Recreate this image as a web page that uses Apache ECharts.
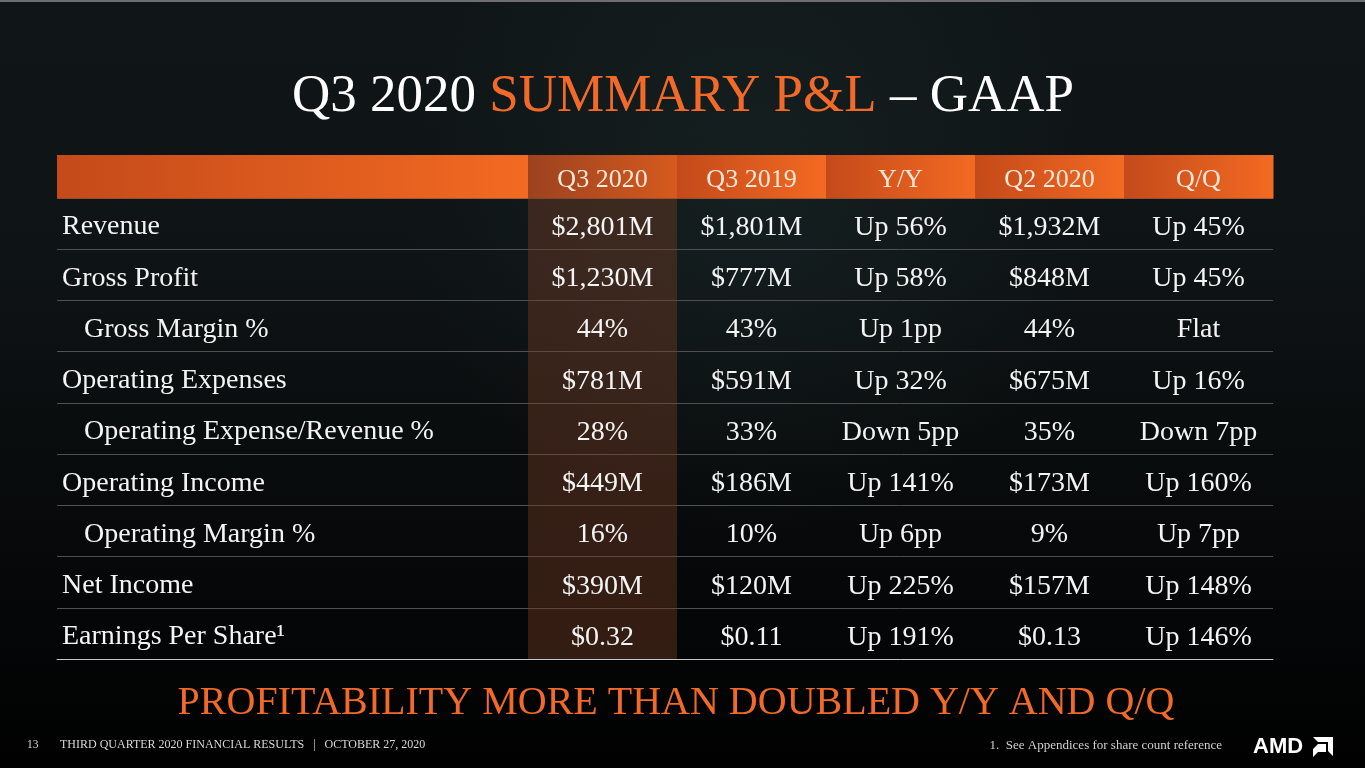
<!DOCTYPE html>
<html>
<head>
<meta charset="utf-8">
<script src="https://cdn.jsdelivr.net/npm/echarts@6/dist/echarts.min.js"></script>
<style>
  html, body { margin: 0; padding: 0; background: #000; }
  #chart { width: 1365px; height: 768px; }
</style>
</head>
<body>
<div id="chart"></div>
<script>
// table data
const columns = ["Q3 2020", "Q3 2019", "Y/Y", "Q2 2020", "Q/Q"];
const rows = [
  "Revenue",
  "Gross Profit",
  "Gross Margin %",
  "Operating Expenses",
  "Operating Expense/Revenue %",
  "Operating Income",
  "Operating Margin %",
  "Net Income",
  "Earnings Per Share¹",
];
const subRows = ["Gross Margin %", "Operating Expense/Revenue %", "Operating Margin %"];
const q3_2020 = ["$2,801M", "$1,230M", "44%", "$781M", "28%", "$449M", "16%", "$390M", "$0.32"];
const q3_2019 = ["$1,801M", "$777M", "43%", "$591M", "33%", "$186M", "10%", "$120M", "$0.11"];
const yoy = ["Up 56%", "Up 58%", "Up 1pp", "Up 32%", "Down 5pp", "Up 141%", "Up 6pp", "Up 225%", "Up 191%"];
const q2_2020 = ["$1,932M", "$848M", "44%", "$675M", "35%", "$173M", "9%", "$157M", "$0.13"];
const qoq = ["Up 45%", "Up 45%", "Flat", "Up 16%", "Down 7pp", "Up 160%", "Up 7pp", "Up 148%", "Up 146%"];

const columnValues = [q3_2020, q3_2019, yoy, q2_2020, qoq];

const SERIF = "Liberation Serif";
const ORANGE = "#f26a2a";
const HEADER_H = 43;

let cellData = [];
for (let c = 0; c < columns.length; c++) {
  for (let r = 0; r < rows.length; r++) {
    cellData.push([c, r]);
  }
}

const myChart = echarts.init(document.getElementById("chart"));

// header cells (above first row)
const renderHeader = (params, api) => {
  const c = api.value(0);
  const pt = api.coord([c, 0]);
  const size = api.size([1, 1]);
  const top = pt[1] - size[1] / 2 - HEADER_H;
  const isLabelCol = params.seriesIndex === 0;
  const stops = c === 0 && !isLabelCol
    ? [{ offset: 0, color: "#9c4220" }, { offset: 1, color: "#d65a1e" }]
    : [{ offset: 0, color: "#c44a1a" }, { offset: 1, color: "#f36a22" }];
  const children = [
    {
      type: "rect",
      shape: { x: pt[0] - size[0] / 2, y: top, width: size[0] + 0.5, height: HEADER_H + 0.5 },
      style: { fill: new echarts.graphic.LinearGradient(0, 0, 1, 0, stops) },
    },
  ];
  if (!isLabelCol) {
    children.push({
      type: "text",
      x: pt[0],
      y: top + HEADER_H / 2 + 4,
      style: {
        text: columns[c],
        fill: "#f8e8dc",
        fontFamily: SERIF,
        fontSize: 26,
        align: "center",
        verticalAlign: "middle",
      },
    });
  }
  return { type: "group", children: children };
};

// body cells
const renderCell = (params, api) => {
  const c = api.value(0);
  const r = api.value(1);
  const pt = api.coord([c, r]);
  const size = api.size([1, 1]);
  const children = [];
  if (c === 0) {
    children.push({
      type: "rect",
      shape: { x: pt[0] - size[0] / 2, y: pt[1] - size[1] / 2, width: size[0], height: size[1] },
      style: { fill: "rgba(122,62,38,0.4)" },
      z2: -1,
    });
  }
  children.push({
    type: "text",
    x: pt[0],
    y: pt[1] + 4,
    style: {
      text: columnValues[c][r],
      fill: "#f4f4f4",
      fontFamily: SERIF,
      fontSize: 28,
      align: "center",
      verticalAlign: "middle",
    },
  });
  return { type: "group", children: children };
};

const splitLine = { show: true, lineStyle: { color: "#505050", width: 1 } };
const bottomLine = { show: true, lineStyle: { color: "#c4c4c4", width: 1 } };

const option = {
  backgroundColor: "#050607",
  animation: false,
  graphic: [
    {
      type: "rect",
      z: -10,
      shape: { x: 0, y: 0, width: 1365, height: 768 },
      style: {
        fill: new echarts.graphic.LinearGradient(0, 0, 0, 1, [
          { offset: 0, color: "#101617" },
          { offset: 0.35, color: "#0e1315" },
          { offset: 0.7, color: "#07090a" },
          { offset: 1, color: "#010101" },
        ]),
      },
    },
    {
      type: "rect",
      z: -9,
      shape: { x: 0, y: 0, width: 1365, height: 768 },
      style: {
        fill: new echarts.graphic.RadialGradient(0.55, 0.25, 0.45, [
          { offset: 0, color: "rgba(40,66,64,0.25)" },
          { offset: 1, color: "rgba(40,66,64,0)" },
        ]),
      },
    },
    {
      type: "rect",
      shape: { x: 0, y: 0, width: 1365, height: 2 },
      style: { fill: "#6e6e6e" },
    },
    {
      type: "text",
      x: 683,
      y: 97,
      style: {
        text: "{w|Q3 2020 }{o|SUMMARY P&L}{w| – GAAP}",
        align: "center",
        verticalAlign: "middle",
        rich: {
          w: { fontFamily: SERIF, fontSize: 53, fill: "#ffffff", color: "#ffffff" },
          o: { fontFamily: SERIF, fontSize: 53, fill: ORANGE, color: ORANGE },
        },
      },
    },
    {
      type: "text",
      x: 676,
      y: 703,
      style: {
        text: "PROFITABILITY MORE THAN DOUBLED Y/Y AND Q/Q",
        fill: ORANGE,
        fontFamily: SERIF,
        fontSize: 40,
        align: "center",
        verticalAlign: "middle",
      },
    },
    {
      type: "text",
      x: 27,
      y: 745,
      style: { text: "13", fill: "#d8d8d8", fontFamily: SERIF, fontSize: 11.5, verticalAlign: "middle" },
    },
    {
      type: "text",
      x: 60,
      y: 745,
      style: {
        text: "THIRD QUARTER 2020 FINANCIAL RESULTS   |   OCTOBER 27, 2020",
        fill: "#d8d8d8",
        fontFamily: SERIF,
        fontSize: 12,
        verticalAlign: "middle",
      },
    },
    {
      type: "text",
      x: 1222,
      y: 746,
      style: {
        text: "1.  See Appendices for share count reference",
        fill: "#d0d0d0",
        fontFamily: SERIF,
        fontSize: 13,
        align: "right",
        verticalAlign: "middle",
      },
    },
    {
      type: "text",
      x: 1253,
      y: 747,
      style: {
        text: "AMD",
        fill: "#ffffff",
        fontFamily: "Liberation Sans",
        fontWeight: "bold",
        fontSize: 22,
        verticalAlign: "middle",
      },
    },
    {
      type: "polygon",
      shape: {
        points: [[1313, 737], [1333, 737], [1333, 756], [1328, 751], [1328, 742], [1318, 742]],
      },
      style: { fill: "#ffffff" },
    },
    {
      type: "polygon",
      shape: {
        points: [[1318, 744], [1326, 744], [1326, 752], [1318, 752], [1313, 757], [1313, 749]],
      },
      style: { fill: "#ffffff" },
    },
  ],
  grid: [
    { left: 57, right: 1365 - 528, top: 198, bottom: 109 },
    { left: 528, right: 92, top: 198, bottom: 109 },
  ],
  xAxis: [
    {
      gridIndex: 0,
      type: "category",
      data: [""],
      axisLine: bottomLine,
      axisTick: { show: false },
      axisLabel: { show: false },
    },
    {
      gridIndex: 1,
      type: "category",
      data: columns,
      axisLine: bottomLine,
      axisTick: { show: false },
      axisLabel: { show: false },
    },
  ],
  yAxis: [
    {
      gridIndex: 0,
      type: "category",
      data: rows,
      inverse: true,
      axisLine: { show: false },
      axisTick: { show: false },
      splitLine: splitLine,
      axisLabel: {
        inside: true,
        margin: 5,
        formatter: (v) => (subRows.includes(v) ? "{sub|" + v + "}" : "{main|" + v + "}"),
        rich: {
          main: { fontFamily: SERIF, fontSize: 28, color: "#f4f4f4", padding: [7, 0, 0, 0] },
          sub: { fontFamily: SERIF, fontSize: 28, color: "#f4f4f4", padding: [7, 0, 0, 22] },
        },
      },
    },
    {
      gridIndex: 1,
      type: "category",
      data: rows,
      inverse: true,
      axisLine: { show: false },
      axisTick: { show: false },
      axisLabel: { show: false },
      splitLine: splitLine,
    },
  ],
  series: [
    {
      name: "labelHeader",
      type: "custom",
      xAxisIndex: 0,
      yAxisIndex: 0,
      renderItem: renderHeader,
      data: [[0, 0]],
      z: 5,
    },
    {
      name: "header",
      type: "custom",
      xAxisIndex: 1,
      yAxisIndex: 1,
      renderItem: renderHeader,
      data: columns.map((_, i) => [i, 0]),
      z: 5,
    },
    {
      name: "cells",
      type: "custom",
      xAxisIndex: 1,
      yAxisIndex: 1,
      renderItem: renderCell,
      data: cellData,
      z: 1,
    },
  ],
};

myChart.setOption(option);
</script>
</body>
</html>
